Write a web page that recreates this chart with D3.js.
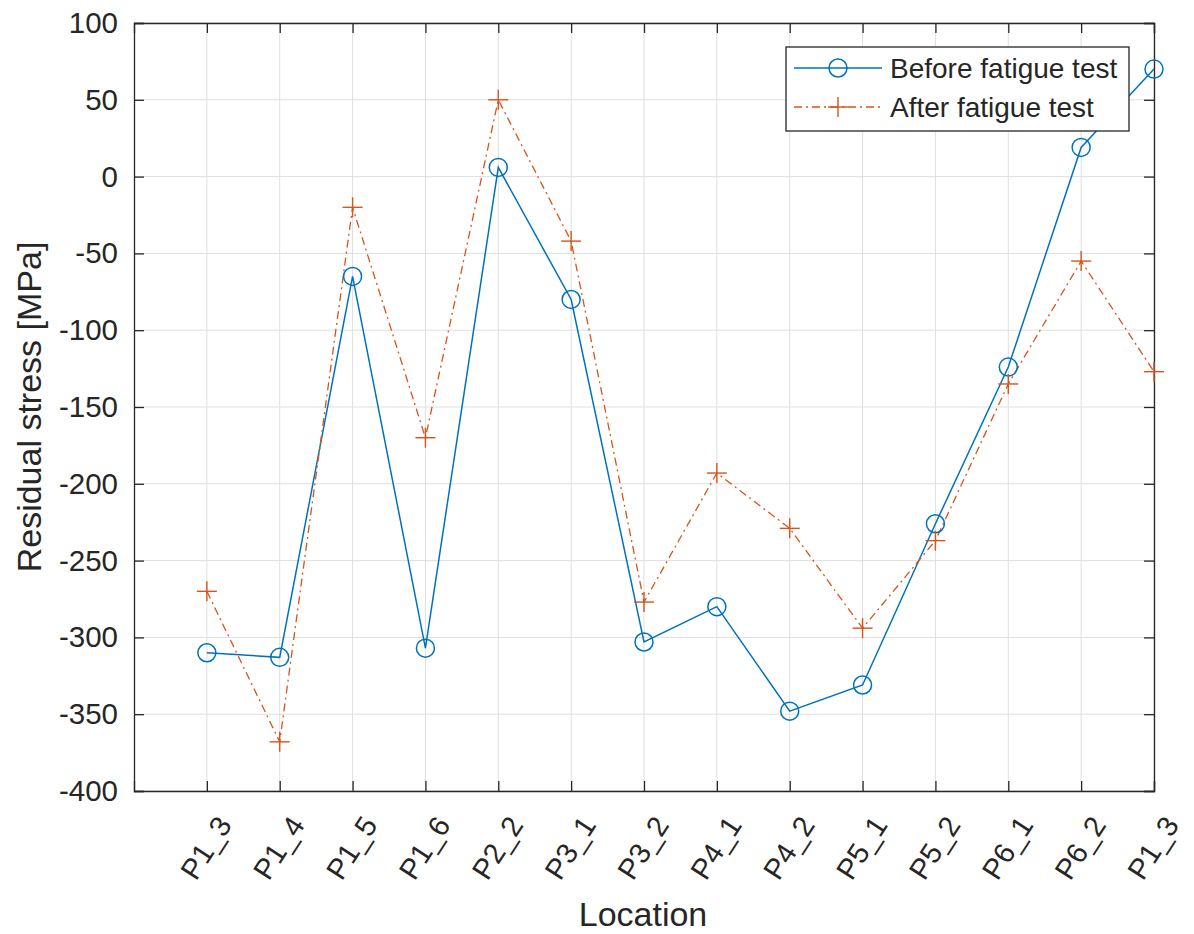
<!DOCTYPE html>
<html>
<head>
<meta charset="utf-8">
<script src="https://cdn.jsdelivr.net/npm/d3@7"></script>
<style>
  html, body { margin: 0; padding: 0; background: #fff; }
  svg { display: block; font-family: "Liberation Sans", Arial, sans-serif; }
</style>
</head>
<body>
<svg id="chart" width="1194" height="934"></svg>
<script>
const categories = ["P1_3","P1_4","P1_5","P1_6","P2_2","P3_1","P3_2","P4_1","P4_2","P5_1","P5_2","P6_1","P6_2","P1_3"];
const beforeValues = [-310, -313, -65, -307, 6, -80, -303, -280, -348, -331, -226, -124, 19, 70];
const afterValues  = [-270, -368, -20, -170, 50, -42, -277, -193, -229, -294, -237, -135, -55, -127];
const yTicks = [-400, -350, -300, -250, -200, -150, -100, -50, 0, 50, 100];
const seriesNames = ["Before fatigue test", "After fatigue test"];

const svg = d3.select("#chart");
const L = 134, R = 1154, T = 23, B = 791;
const x = d3.scaleLinear().domain([0, categories.length]).range([L, R]);
const y = d3.scaleLinear().domain([-400, 100]).range([B, T]);
const idx = categories.map((c, i) => i + 1);

const blue = "#0072BD", orange = "#D95319", axisCol = "#262626";

// grid
const grid = svg.append("g");
grid.selectAll("line.gx").data(idx).enter().append("line")
  .attr("x1", d => x(d)).attr("x2", d => x(d)).attr("y1", T).attr("y2", B)
  .attr("stroke", "#dfdfdf").attr("stroke-width", 1);
grid.selectAll("line.gy").data(yTicks).enter().append("line")
  .attr("x1", L).attr("x2", R).attr("y1", d => y(d)).attr("y2", d => y(d))
  .attr("stroke", "#dfdfdf").attr("stroke-width", 1);

// axes
const xAxis = svg.append("g").attr("transform", `translate(0,${B})`)
  .call(d3.axisBottom(x).tickValues(idx).tickSize(-10).tickFormat(""));
const xTop = svg.append("g").attr("transform", `translate(0,${T})`)
  .call(d3.axisTop(x).tickValues(idx).tickSize(-10).tickFormat(""));
const yAxis = svg.append("g").attr("transform", `translate(${L},0)`)
  .call(d3.axisLeft(y).tickValues(yTicks).tickSize(-10).tickPadding(16).tickFormat(d => String(d)));
const yRight = svg.append("g").attr("transform", `translate(${R},0)`)
  .call(d3.axisRight(y).tickValues(yTicks).tickSize(-10).tickFormat(""));
[xAxis, xTop, yAxis, yRight].forEach(g => {
  g.select(".domain").attr("stroke", axisCol).attr("stroke-width", 1.3);
  g.selectAll(".tick line").attr("stroke", axisCol).attr("stroke-width", 1.3);
});
yAxis.selectAll(".tick text").attr("font-size", 29.5).attr("fill", axisCol)
  .attr("font-family", "Liberation Sans, Arial, sans-serif");

// rotated x tick labels
svg.append("g").selectAll("text").data(idx).enter().append("text")
  .attr("transform", d => `translate(${x(d) + 26},${B + 34}) rotate(-57)`)
  .attr("text-anchor", "end")
  .attr("font-size", 29).attr("fill", axisCol)
  .text((d, i) => categories[i]);

// axis titles
svg.append("text").attr("x", 643).attr("y", 926).attr("text-anchor", "middle")
  .attr("font-size", 34).attr("fill", axisCol).text("Location");
svg.append("text").attr("transform", `translate(41,${(T + B) / 2}) rotate(-90)`)
  .attr("text-anchor", "middle").attr("font-size", 34).attr("fill", axisCol)
  .text("Residual stress [MPa]");

// series
const line = d3.line().x((d, i) => x(i + 1)).y(d => y(d));
svg.append("path").datum(beforeValues).attr("d", line)
  .attr("fill", "none").attr("stroke", blue).attr("stroke-width", 1.5);
svg.append("path").datum(afterValues).attr("d", line)
  .attr("fill", "none").attr("stroke", orange).attr("stroke-width", 1.3)
  .attr("stroke-dasharray", "8,4,2,4");

svg.append("g").selectAll("circle").data(beforeValues).enter().append("circle")
  .attr("cx", (d, i) => x(i + 1)).attr("cy", d => y(d)).attr("r", 9)
  .attr("fill", "none").attr("stroke", blue).attr("stroke-width", 1.5);

const plus = (g, cx, cy, s) => {
  g.append("line").attr("x1", cx - s).attr("x2", cx + s).attr("y1", cy).attr("y2", cy)
    .attr("stroke", orange).attr("stroke-width", 1.4);
  g.append("line").attr("x1", cx).attr("x2", cx).attr("y1", cy - s).attr("y2", cy + s)
    .attr("stroke", orange).attr("stroke-width", 1.4);
};
const pg = svg.append("g");
afterValues.forEach((v, i) => plus(pg, x(i + 1), y(v), 10));

// legend
const lg = svg.append("g");
lg.append("rect").attr("x", 786).attr("y", 47).attr("width", 343).attr("height", 84)
  .attr("fill", "#fff").attr("stroke", axisCol).attr("stroke-width", 1.3);
lg.append("line").attr("x1", 794).attr("x2", 882).attr("y1", 68).attr("y2", 68)
  .attr("stroke", blue).attr("stroke-width", 1.5);
lg.append("circle").attr("cx", 838).attr("cy", 68).attr("r", 9)
  .attr("fill", "none").attr("stroke", blue).attr("stroke-width", 1.5);
lg.append("line").attr("x1", 794).attr("x2", 882).attr("y1", 107).attr("y2", 107)
  .attr("stroke", orange).attr("stroke-width", 1.3).attr("stroke-dasharray", "8,4,2,4");
plus(lg, 838, 107, 10);
lg.append("text").attr("x", 890).attr("y", 78).attr("font-size", 28).attr("fill", axisCol).text(seriesNames[0]);
lg.append("text").attr("x", 890).attr("y", 117).attr("font-size", 28).attr("fill", axisCol).text(seriesNames[1]);
</script>
</body>
</html>
